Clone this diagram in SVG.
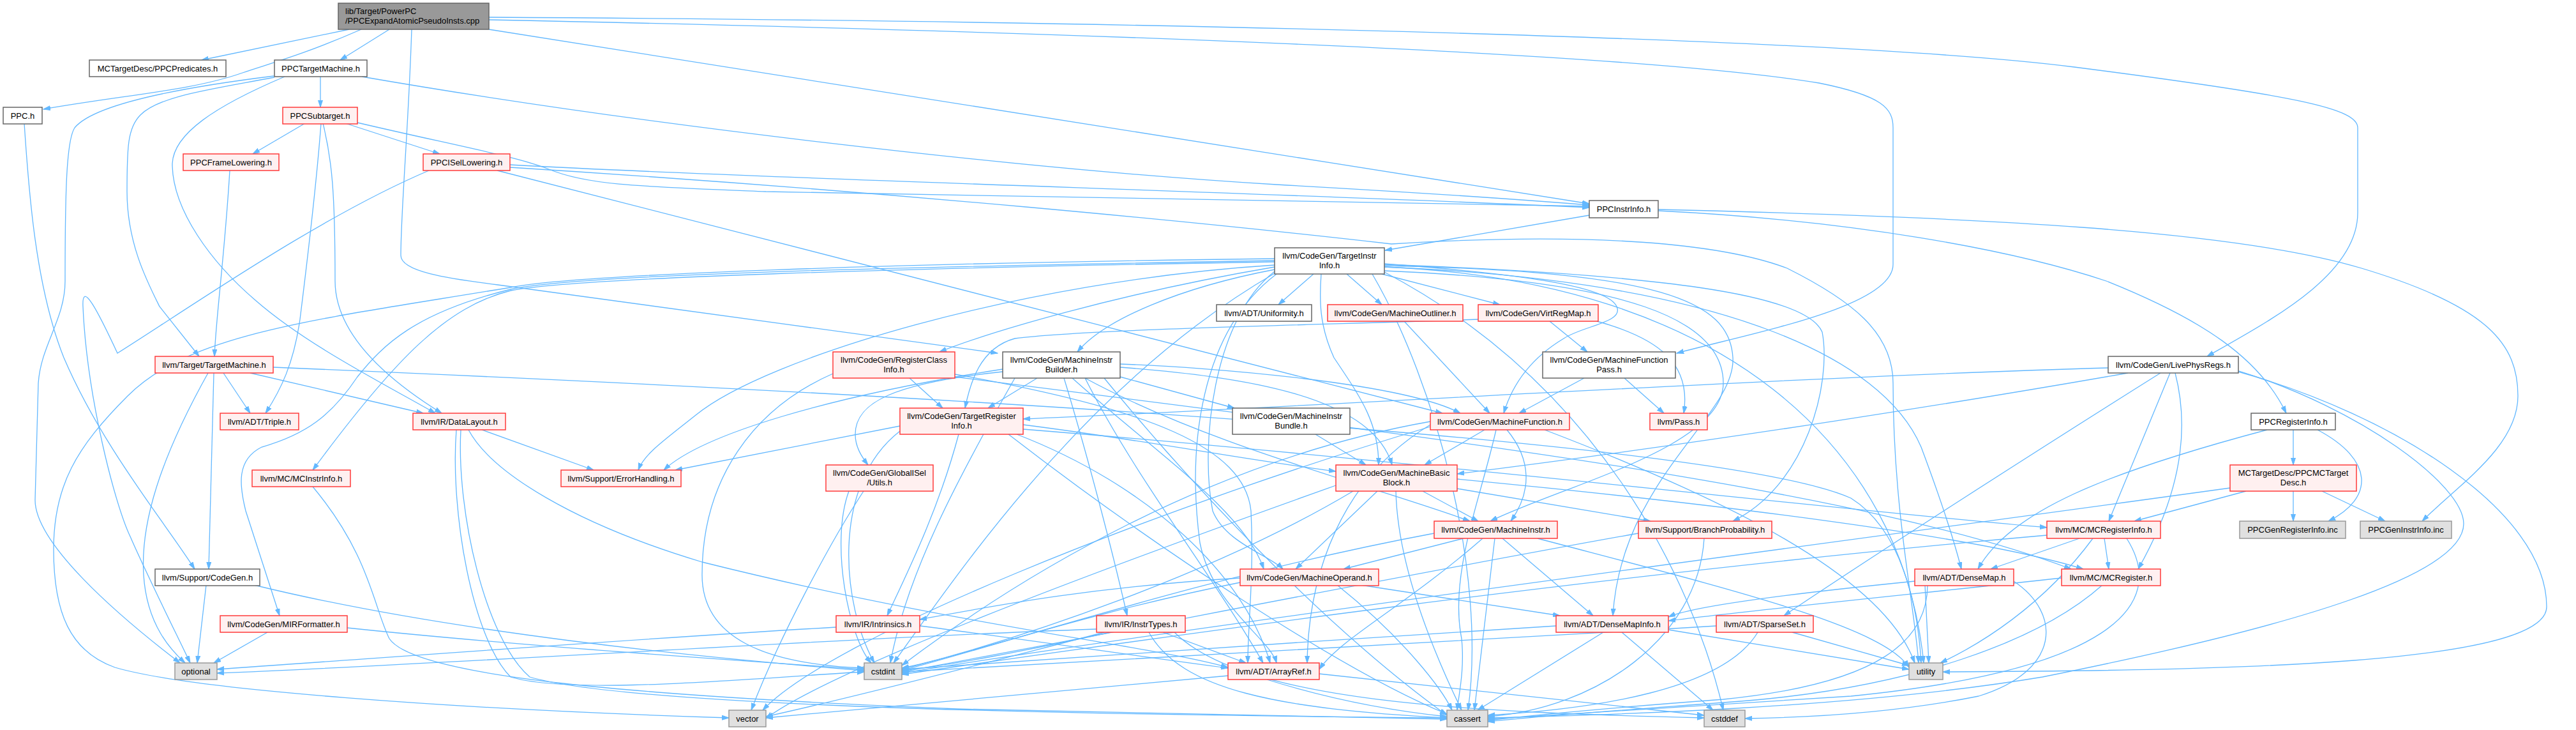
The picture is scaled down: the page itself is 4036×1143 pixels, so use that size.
<svg xmlns="http://www.w3.org/2000/svg" width="4036" height="1143" viewBox="0 0 4036 1143">
<defs>
<style>
.e{fill:none;stroke:#63b8ff;stroke-width:1.3;marker-end:url(#a)}
.w{fill:#ffffff;stroke:#666666;stroke-width:1.5}
.r{fill:#fff0f0;stroke:#ff3b3b;stroke-width:1.5}
.g{fill:#e0e0e0;stroke:#999999;stroke-width:1.5}
.m{fill:#999999;stroke:#666666;stroke-width:1.5}
text{font-family:"Liberation Sans",Arial,Helvetica,sans-serif;font-size:13px;fill:#000000;text-anchor:middle}
text.l{text-anchor:start}
</style>
<marker id="a" viewBox="0 0 12 8" refX="11" refY="4" markerWidth="12" markerHeight="8" markerUnits="userSpaceOnUse" orient="auto"><path d="M0,0.5 L11,4 L0,7.5 z" fill="#63b8ff" stroke="#63b8ff"/></marker>
</defs>
<rect x="0" y="0" width="4036" height="1143" fill="#ffffff"/>
<g id="edges">
<path class="e" d="M547,46 L316,94"/>
<path class="e" d="M566,46 C470,88 420,100 380,114 C300,142 200,148 68,171"/>
<path class="e" d="M610,46 L533,94"/>
<path class="e" d="M645,46 C640,200 628,330 628,400 C628,425 700,436 780,446 C1100,490 1400,530 1563,553"/>
<path class="e" d="M766,46 L2490,319"/>
<path class="e" d="M766,31 C1600,48 2550,80 2850,130 C2950,150 2966,170 2966,200 L2966,414 C2966,480 2750,520 2627,553"/>
<path class="e" d="M766,27 C1800,33 2900,60 3250,105 C3600,150 3694,170 3694,200 L3694,333 C3694,430 3560,500 3458,558"/>
<path class="e" d="M502,120 L502,168"/>
<path class="e" d="M567,120 C1000,195 1600,265 2000,289 C2200,300 2350,310 2490,321"/>
<path class="e" d="M430,121 C330,140 250,150 220,180 C200,200 199,230 199,300 C199,380 230,440 250,480 L312,558"/>
<path class="e" d="M446,120 C340,165 268,210 270,260 C272,330 330,410 400,470 C480,540 600,600 682,647"/>
<path class="e" d="M429,119 C300,135 150,160 117,200 C104,220 102,300 102,440 C102,500 64,540 60,600 L55,783 C55,850 180,960 282,1038"/>
<path class="e" d="M38,193 C45,300 56,450 100,560 C160,700 260,820 305,891"/>
<path class="e" d="M478,193 L396,241"/>
<path class="e" d="M541,193 L689,241"/>
<path class="e" d="M560,192 C700,225 810,245 860,265 C920,290 1000,292 1200,300 C1700,310 2200,316 2490,323"/>
<path class="e" d="M503,193 C495,300 480,420 470,500 C460,570 440,610 416,647"/>
<path class="e" d="M506,193 C520,250 525,300 525,440 C525,520 600,590 692,647"/>
<path class="e" d="M360,267 C352,400 338,500 336,558"/>
<path class="e" d="M799,258 C1200,280 2000,302 2490,325"/>
<path class="e" d="M779,267 C1300,400 1900,555 2260,647"/>
<path class="e" d="M799,262 C1400,300 1900,350 2180,382 C2500,362 2700,382 2800,420 C2900,470 2966,520 2966,600 C2966,800 3000,950 3006,1038"/>
<path class="e" d="M672,267 C500,340 300,480 184,553 C150,480 128,440 130,480 C136,620 180,790 204,840 C230,900 280,1000 298,1038"/>
<path class="e" d="M2490,337 L2170,392"/>
<path class="e" d="M2598,330 C2900,345 3150,390 3300,440 C3450,500 3540,560 3582,647"/>
<path class="e" d="M2598,328 C3100,340 3500,360 3700,420 C3900,480 3945,540 3945,620 C3945,700 3850,760 3795,816"/>
<path class="e" d="M2058,429 L2003,477"/>
<path class="e" d="M2110,429 L2165,477"/>
<path class="e" d="M2165,429 L2350,477"/>
<path class="e" d="M1997,422 C1850,450 1730,500 1688,551"/>
<path class="e" d="M1997,418 C1750,460 1550,520 1472,551"/>
<path class="e" d="M2169,413 C2400,430 2520,450 2533,480 C2545,505 2480,510 2450,530 C2400,560 2370,600 2356,647"/>
<path class="e" d="M2070,429 C2067,470 2067,510 2090,560 C2130,620 2160,660 2160,728"/>
<path class="e" d="M2169,424 C2550,440 2700,500 2700,600 C2700,700 2450,760 2335,816"/>
<path class="e" d="M1997,425 C1900,500 1880,700 1900,800 C1920,850 1990,870 2010,891"/>
<path class="e" d="M1997,410 C1400,420 900,435 800,455 C700,480 620,560 490,736"/>
<path class="e" d="M1997,408 C1400,418 900,430 800,453 C650,490 600,540 560,590 C520,650 480,680 410,700 C370,720 375,760 385,800 L438,964"/>
<path class="e" d="M1997,415 C1600,440 1200,560 1090,650 C1040,690 1010,710 1000,736"/>
<path class="e" d="M2169,414 C2600,430 2830,460 2855,520 C2870,600 2830,760 2715,816"/>
<path class="e" d="M2169,418 C2700,440 2950,560 3010,700 C3040,780 3060,840 3073,891"/>
<path class="e" d="M2169,416 C2600,425 2710,470 2715,560 C2720,650 2540,750 2527,964"/>
<path class="e" d="M2000,429 C1880,520 1860,700 1880,850 C1900,950 1990,1000 2000,1038"/>
<path class="e" d="M1997,428 C1700,600 1500,900 1400,1038"/>
<path class="e" d="M2150,429 C2250,600 2330,900 2300,1112"/>
<path class="e" d="M2169,426 C2500,600 2650,900 2700,1112"/>
<path class="e" d="M2169,418 C2700,440 2980,700 3014,1038"/>
<path class="e" d="M1997,405 C1400,412 900,430 800,450 C500,500 300,520 200,620 C120,700 84,760 84,860 C84,960 110,1020 180,1045 C300,1080 700,1110 1142,1124"/>
<path class="e" d="M3303,576 C2800,590 2000,640 1603,656"/>
<path class="e" d="M3334,584 C3100,625 2700,690 2283,742"/>
<path class="e" d="M3385,584 C3200,700 2950,860 2795,964"/>
<path class="e" d="M3400,584 L3304,816"/>
<path class="e" d="M3408,584 C3425,650 3430,750 3350,891"/>
<path class="e" d="M3505,580 C3700,640 3860,760 3860,820 C3860,900 3600,980 3200,1060 C2900,1110 2500,1120 2331,1124"/>
<path class="e" d="M3507,582 C3750,650 3990,800 3990,950 C3990,1040 3500,1050 3044,1052"/>
<path class="e" d="M350,584 L392,647"/>
<path class="e" d="M392,584 L663,647"/>
<path class="e" d="M335,584 L327,891"/>
<path class="e" d="M326,584 C250,720 220,820 225,900 C230,980 270,1020 290,1038"/>
<path class="e" d="M428,575 C1500,620 2700,690 2900,780 C2980,830 3005,950 3010,1038"/>
<path class="e" d="M2200,503 L2334,647"/>
<path class="e" d="M2428,503 L2487,551"/>
<path class="e" d="M2502,503 C2600,530 2650,570 2638,647"/>
<path class="e" d="M2316,500 C2100,508 1700,515 1590,530 C1535,545 1520,600 1512,639"/>
<path class="e" d="M1425,592 L1477,639"/>
<path class="e" d="M1496,586 C1800,640 1950,700 1960,800 C1965,900 1955,980 1955,1038"/>
<path class="e" d="M1496,590 C2200,680 2900,760 3245,891"/>
<path class="e" d="M1305,585 C1180,640 1100,750 1100,900 C1100,1000 1200,1040 1354,1046"/>
<path class="e" d="M1625,592 L1548,639"/>
<path class="e" d="M1755,590 L1934,639"/>
<path class="e" d="M1755,570 C1900,575 2200,600 2288,647"/>
<path class="e" d="M1755,575 C1950,590 2150,620 2181,728"/>
<path class="e" d="M1700,592 C1900,700 2150,760 2303,816"/>
<path class="e" d="M1680,592 C1800,700 1950,800 1980,891"/>
<path class="e" d="M1571,582 C1400,600 1340,630 1340,680 C1340,700 1350,715 1360,728"/>
<path class="e" d="M1667,592 C1700,700 1740,850 1766,964"/>
<path class="e" d="M1700,592 C1780,750 1900,900 1979,1038"/>
<path class="e" d="M1571,578 C1300,620 1100,680 1040,736"/>
<path class="e" d="M1590,592 C1500,750 1420,900 1395,1038"/>
<path class="e" d="M1730,592 C1900,800 2100,1000 2267,1120"/>
<path class="e" d="M2482,592 L2380,647"/>
<path class="e" d="M2545,592 L2607,647"/>
<path class="e" d="M755,673 L930,736"/>
<path class="e" d="M715,673 C705,800 740,1000 800,1060 C900,1090 1200,1060 1354,1052"/>
<path class="e" d="M734,673 C770,740 900,820 1100,880 C1500,980 1800,1010 1924,1045"/>
<path class="e" d="M722,673 C715,800 760,1000 830,1060 C1000,1110 1800,1120 2267,1124"/>
<path class="e" d="M1603,665 C1800,690 1950,720 2093,738"/>
<path class="e" d="M1603,672 C2200,720 2900,800 3207,826"/>
<path class="e" d="M1410,667 L1058,736"/>
<path class="e" d="M1593,680 C1800,760 1950,900 1990,1038"/>
<path class="e" d="M1410,675 C1300,760 1320,950 1370,1038"/>
<path class="e" d="M1580,680 C1800,850 2100,1050 2267,1118"/>
<path class="e" d="M1502,680 C1470,800 1420,900 1390,964"/>
<path class="e" d="M2061,680 L2140,728"/>
<path class="e" d="M2326,673 L2232,728"/>
<path class="e" d="M2361,673 C2400,720 2400,770 2367,816"/>
<path class="e" d="M2241,665 C2100,750 2050,900 2048,1038"/>
<path class="e" d="M2344,673 C2320,780 2270,900 2290,1000 C2295,1050 2285,1090 2283,1112"/>
<path class="e" d="M2241,660 C1900,720 1600,900 1413,1042"/>
<path class="e" d="M2420,673 C2700,780 2950,900 3000,1038"/>
<path class="e" d="M2241,668 C1800,800 1300,1000 1195,1112"/>
<path class="e" d="M1353,769 C1300,850 1220,1000 1177,1112"/>
<path class="e" d="M1330,769 C1300,850 1330,1000 1365,1038"/>
<path class="e" d="M2229,769 L2316,816"/>
<path class="e" d="M2283,765 L2586,816"/>
<path class="e" d="M2283,750 C2700,790 3100,840 3264,891"/>
<path class="e" d="M2187,769 C2190,900 2260,1050 2290,1112"/>
<path class="e" d="M2120,769 C1900,900 1600,1000 1413,1048"/>
<path class="e" d="M2093,760 C1700,900 1300,1050 1200,1125"/>
<path class="e" d="M2158,769 L2030,891"/>
<path class="e" d="M3519,769 L3344,816"/>
<path class="e" d="M3593,769 L3593,816"/>
<path class="e" d="M3638,769 L3737,816"/>
<path class="e" d="M3494,764 C2800,860 1800,990 1413,1054"/>
<path class="e" d="M3593,673 L3593,728"/>
<path class="e" d="M3552,673 C3300,740 3150,800 3099,891"/>
<path class="e" d="M3631,673 C3720,720 3720,780 3648,816"/>
<path class="e" d="M2293,843 L2105,891"/>
<path class="e" d="M2354,843 L2496,964"/>
<path class="e" d="M2323,843 C2200,950 2100,1000 2067,1048"/>
<path class="e" d="M2342,843 L2310,1112"/>
<path class="e" d="M2247,835 C1900,900 1600,1000 1413,1050"/>
<path class="e" d="M2409,843 C2700,920 2950,980 2991,1045"/>
<path class="e" d="M2670,843 C2660,1000 2500,1110 2331,1122"/>
<path class="e" d="M2567,835 C2200,900 1700,1000 1413,1052"/>
<path class="e" d="M3258,843 L3119,891"/>
<path class="e" d="M3297,843 L3304,891"/>
<path class="e" d="M3279,843 C3200,950 3100,1010 3040,1038"/>
<path class="e" d="M3332,843 C3400,950 3300,1050 2900,1090 C2600,1110 2400,1120 2331,1126"/>
<path class="e" d="M3207,838 C2500,900 1800,1000 1413,1056"/>
<path class="e" d="M323,916 L309,1038"/>
<path class="e" d="M398,916 C700,990 1100,1030 1354,1050"/>
<path class="e" d="M2132,916 L2444,964"/>
<path class="e" d="M1943,905 C1700,920 1550,950 1441,970"/>
<path class="e" d="M2095,916 C2200,1000 2260,1080 2275,1112"/>
<path class="e" d="M1943,912 C1700,960 1500,1030 1413,1046"/>
<path class="e" d="M3000,910 C2800,930 2650,950 2614,966"/>
<path class="e" d="M3016,916 L3022,1038"/>
<path class="e" d="M3020,916 C3020,1000 2950,1070 2700,1095 C2500,1110 2400,1120 2331,1128"/>
<path class="e" d="M3155,910 C3230,960 3230,1050 3100,1090 C2950,1120 2800,1124 2734,1125"/>
<path class="e" d="M3230,905 C3000,930 2750,955 2614,972"/>
<path class="e" d="M3294,916 C3200,1000 3000,1080 2700,1100 C2500,1115 2400,1122 2331,1130"/>
<path class="e" d="M419,990 L335,1038"/>
<path class="e" d="M544,983 C800,1010 1100,1030 1354,1048"/>
<path class="e" d="M1310,982 C1000,1000 600,1030 340,1048"/>
<path class="e" d="M1441,980 C1600,1000 1800,1030 1924,1046"/>
<path class="e" d="M1822,990 L1952,1038"/>
<path class="e" d="M1718,985 C1300,1000 700,1040 340,1054"/>
<path class="e" d="M1740,990 C1600,1020 1500,1040 1413,1050"/>
<path class="e" d="M1800,990 C1850,1080 2000,1110 2267,1124"/>
<path class="e" d="M1840,990 C1950,1100 2300,1115 2670,1124"/>
<path class="e" d="M1730,990 C1500,1050 1300,1100 1200,1122"/>
<path class="e" d="M2512,990 L2315,1112"/>
<path class="e" d="M2541,990 L2684,1112"/>
<path class="e" d="M2438,980 C2100,1000 1700,1030 1413,1048"/>
<path class="e" d="M2614,986 L2991,1048"/>
<path class="e" d="M2754,990 C2700,1080 2500,1110 2331,1120"/>
<path class="e" d="M2689,980 C2200,1010 1700,1035 1413,1052"/>
<path class="e" d="M2808,990 L2991,1042"/>
<path class="e" d="M1924,1058 L1200,1124"/>
<path class="e" d="M1985,1064 C2100,1100 2200,1115 2267,1122"/>
<path class="e" d="M2067,1055 C2300,1080 2500,1100 2670,1120"/>
<path class="e" d="M490,762 C580,870 585,950 610,1000 C650,1060 1000,1090 1500,1110 C1900,1120 2150,1122 2267,1126"/>
</g>
<g id="n0"><rect class="m" x="530" y="5" width="236" height="41"/><text class="l" x="541" y="22">lib/Target/PowerPC</text><text class="l" x="541" y="37">/PPCExpandAtomicPseudoInsts.cpp</text></g>
<g id="n1"><rect class="w" x="140" y="94" width="214" height="26"/><text x="247" y="111.5">MCTargetDesc/PPCPredicates.h</text></g>
<g id="n2"><rect class="w" x="430" y="94" width="145" height="26"/><text x="502.5" y="111.5">PPCTargetMachine.h</text></g>
<g id="n3"><rect class="w" x="5" y="168" width="61" height="26"/><text x="35.5" y="185.5">PPC.h</text></g>
<g id="n4"><rect class="r" x="443" y="168" width="117" height="26"/><text x="501.5" y="185.5">PPCSubtarget.h</text></g>
<g id="n5"><rect class="r" x="287" y="241" width="150" height="26"/><text x="362" y="258.5">PPCFrameLowering.h</text></g>
<g id="n6"><rect class="r" x="663" y="241" width="136" height="26"/><text x="731" y="258.5">PPCISelLowering.h</text></g>
<g id="n7"><rect class="w" x="2490" y="314" width="108" height="27"/><text x="2544" y="332">PPCInstrInfo.h</text></g>
<g id="n8"><rect class="w" x="1997" y="388" width="172" height="41"/><text x="2083" y="405">llvm/CodeGen/TargetInstr</text><text x="2083" y="420">Info.h</text></g>
<g id="n9"><rect class="w" x="3303" y="558" width="204" height="26"/><text x="3405" y="575.5">llvm/CodeGen/LivePhysRegs.h</text></g>
<g id="n10"><rect class="r" x="243" y="558" width="185" height="26"/><text x="335.5" y="575.5">llvm/Target/TargetMachine.h</text></g>
<g id="n11"><rect class="w" x="1906" y="477" width="149" height="26"/><text x="1980.5" y="494.5">llvm/ADT/Uniformity.h</text></g>
<g id="n12"><rect class="r" x="2080" y="477" width="212" height="26"/><text x="2186" y="494.5">llvm/CodeGen/MachineOutliner.h</text></g>
<g id="n13"><rect class="r" x="2316" y="477" width="188" height="26"/><text x="2410" y="494.5">llvm/CodeGen/VirtRegMap.h</text></g>
<g id="n14"><rect class="r" x="1305" y="551" width="191" height="41"/><text x="1400.5" y="568">llvm/CodeGen/RegisterClass</text><text x="1400.5" y="583">Info.h</text></g>
<g id="n15"><rect class="w" x="1571" y="551" width="184" height="41"/><text x="1663" y="568">llvm/CodeGen/MachineInstr</text><text x="1663" y="583">Builder.h</text></g>
<g id="n16"><rect class="w" x="2417" y="551" width="208" height="41"/><text x="2521" y="568">llvm/CodeGen/MachineFunction</text><text x="2521" y="583">Pass.h</text></g>
<g id="n17"><rect class="r" x="345" y="647" width="123" height="26"/><text x="406.5" y="664.5">llvm/ADT/Triple.h</text></g>
<g id="n18"><rect class="r" x="647" y="647" width="145" height="26"/><text x="719.5" y="664.5">llvm/IR/DataLayout.h</text></g>
<g id="n19"><rect class="r" x="1410" y="639" width="193" height="41"/><text x="1506.5" y="656">llvm/CodeGen/TargetRegister</text><text x="1506.5" y="671">Info.h</text></g>
<g id="n20"><rect class="w" x="1931" y="639" width="184" height="41"/><text x="2023" y="656">llvm/CodeGen/MachineInstr</text><text x="2023" y="671">Bundle.h</text></g>
<g id="n21"><rect class="r" x="2241" y="647" width="218" height="26"/><text x="2350" y="664.5">llvm/CodeGen/MachineFunction.h</text></g>
<g id="n22"><rect class="r" x="2585" y="647" width="90" height="26"/><text x="2630" y="664.5">llvm/Pass.h</text></g>
<g id="n23"><rect class="w" x="3527" y="647" width="132" height="26"/><text x="3593" y="664.5">PPCRegisterInfo.h</text></g>
<g id="n24"><rect class="r" x="395" y="736" width="154" height="26"/><text x="472" y="753.5">llvm/MC/MCInstrInfo.h</text></g>
<g id="n25"><rect class="r" x="879" y="736" width="188" height="26"/><text x="973" y="753.5">llvm/Support/ErrorHandling.h</text></g>
<g id="n26"><rect class="r" x="1294" y="728" width="168" height="41"/><text x="1378" y="745">llvm/CodeGen/GlobalISel</text><text x="1378" y="760">/Utils.h</text></g>
<g id="n27"><rect class="r" x="2093" y="728" width="190" height="41"/><text x="2188" y="745">llvm/CodeGen/MachineBasic</text><text x="2188" y="760">Block.h</text></g>
<g id="n28"><rect class="r" x="3494" y="728" width="198" height="41"/><text x="3593" y="745">MCTargetDesc/PPCMCTarget</text><text x="3593" y="760">Desc.h</text></g>
<g id="n29"><rect class="r" x="2247" y="816" width="193" height="27"/><text x="2343.5" y="834">llvm/CodeGen/MachineInstr.h</text></g>
<g id="n30"><rect class="r" x="2567" y="816" width="209" height="27"/><text x="2671.5" y="834">llvm/Support/BranchProbability.h</text></g>
<g id="n31"><rect class="r" x="3207" y="816" width="178" height="27"/><text x="3296" y="834">llvm/MC/MCRegisterInfo.h</text></g>
<g id="n32"><rect class="g" x="3509" y="816" width="166" height="27"/><text x="3592" y="834">PPCGenRegisterInfo.inc</text></g>
<g id="n33"><rect class="g" x="3698" y="816" width="143" height="27"/><text x="3769.5" y="834">PPCGenInstrInfo.inc</text></g>
<g id="n34"><rect class="w" x="243" y="891" width="164" height="26"/><text x="325" y="908.5">llvm/Support/CodeGen.h</text></g>
<g id="n35"><rect class="r" x="1943" y="891" width="217" height="26"/><text x="2051.5" y="908.5">llvm/CodeGen/MachineOperand.h</text></g>
<g id="n36"><rect class="r" x="3000" y="891" width="155" height="26"/><text x="3077.5" y="908.5">llvm/ADT/DenseMap.h</text></g>
<g id="n37"><rect class="r" x="3230" y="891" width="155" height="26"/><text x="3307.5" y="908.5">llvm/MC/MCRegister.h</text></g>
<g id="n38"><rect class="r" x="345" y="964" width="199" height="26"/><text x="444.5" y="981.5">llvm/CodeGen/MIRFormatter.h</text></g>
<g id="n39"><rect class="r" x="1310" y="964" width="131" height="26"/><text x="1375.5" y="981.5">llvm/IR/Intrinsics.h</text></g>
<g id="n40"><rect class="r" x="1718" y="964" width="139" height="26"/><text x="1787.5" y="981.5">llvm/IR/InstrTypes.h</text></g>
<g id="n41"><rect class="r" x="2438" y="964" width="176" height="26"/><text x="2526" y="981.5">llvm/ADT/DenseMapInfo.h</text></g>
<g id="n42"><rect class="r" x="2689" y="964" width="152" height="26"/><text x="2765" y="981.5">llvm/ADT/SparseSet.h</text></g>
<g id="n43"><rect class="g" x="274" y="1038" width="66" height="26"/><text x="307" y="1055.5">optional</text></g>
<g id="n44"><rect class="g" x="1354" y="1038" width="59" height="26"/><text x="1383.5" y="1055.5">cstdint</text></g>
<g id="n45"><rect class="r" x="1924" y="1038" width="143" height="26"/><text x="1995.5" y="1055.5">llvm/ADT/ArrayRef.h</text></g>
<g id="n46"><rect class="g" x="2991" y="1038" width="53" height="26"/><text x="3017.5" y="1055.5">utility</text></g>
<g id="n47"><rect class="g" x="1142" y="1112" width="58" height="26"/><text x="1171" y="1129.5">vector</text></g>
<g id="n48"><rect class="g" x="2267" y="1112" width="64" height="26"/><text x="2299" y="1129.5">cassert</text></g>
<g id="n49"><rect class="g" x="2670" y="1112" width="64" height="26"/><text x="2702" y="1129.5">cstddef</text></g>
</svg>
